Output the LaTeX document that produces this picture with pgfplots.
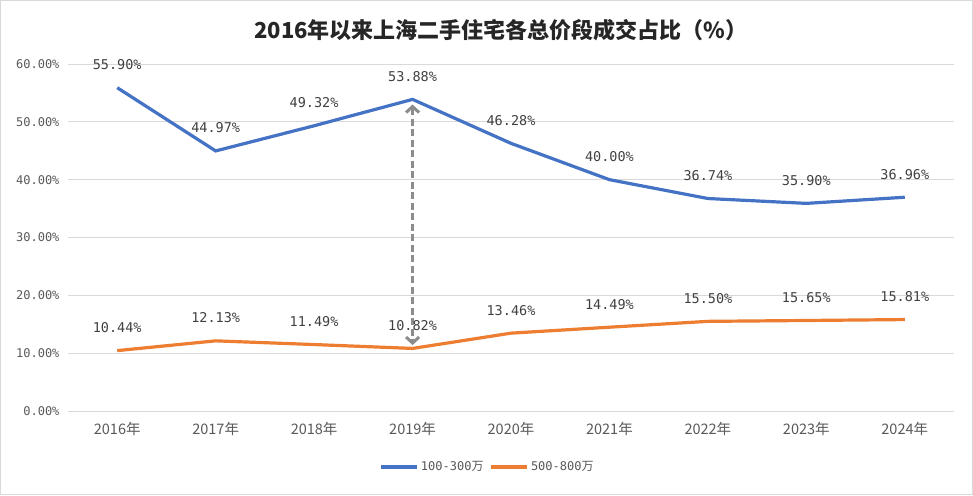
\documentclass[border=0pt]{standalone}
\usepackage{fontspec}
\setmainfont{Noto Sans CJK SC}
\newfontfamily\monofont{DejaVu Sans Mono}
\usepackage{pgfplots}
\pgfplotsset{compat=1.18}
\usetikzlibrary{arrows.meta}
\definecolor{cblue}{HTML}{4472C4}
\definecolor{corange}{HTML}{ED7D31}
\definecolor{gridc}{HTML}{D9D9D9}
\definecolor{txt}{HTML}{595959}
\definecolor{lbl}{HTML}{404040}
\definecolor{arr}{HTML}{8C8C8C}
\begin{document}
\begin{tikzpicture}
\draw[gridc, line width=1pt] (0.5pt,0.5pt) rectangle (972.5pt,494.5pt);
\node[font=\bfseries\fontsize{22}{24}\selectfont, text=black!85] at (501pt,465pt) {2016年以来上海二手住宅各总价段成交占比（\%）};
\begin{axis}[
  at={(68pt,84pt)}, anchor=south west,
  scale only axis, width=886pt, height=347pt,
  xmin=-0.5, xmax=8.5, ymin=0, ymax=60,
  /pgf/number format/assume math mode=true,
  xtick={0,...,8},
  xticklabels={2016年,2017年,2018年,2019年,2020年,2021年,2022年,2023年,2024年},
  ytick={0,10,...,60},
  yticklabel={\monofont\pgfmathprintnumber[fixed,fixed zerofill,precision=2]{\tick}\%},
  yticklabel style={font=\fontsize{12}{14}\selectfont, text=txt, xshift=-5pt},
  xticklabel style={font=\fontsize{14.5}{16}\selectfont, text=txt, yshift=-8pt},
  axis line style={draw=none},
  major tick style={draw=none},
  ymajorgrids, grid style={gridc, line width=0.8pt},
  legend style={at={(0.4735,-0.161)}, anchor=center, draw=none, legend columns=2,
    font=\fontsize{12}{14}\selectfont, text=txt,
    /tikz/every even column/.append style={column sep=4pt}},
  legend image code/.code={\draw[#1, line width=3.5pt] (0pt,0pt) -- (36pt,0pt);},
  clip=false,
]
\addplot[cblue, line width=3.2pt, mark=none,
  nodes near coords={\monofont\pgfmathprintnumber[fixed,fixed zerofill,precision=2,assume math mode=true]{\pgfplotspointmeta}\%},
  nodes near coords align=center,
  every node near coord/.append style={yshift=23pt, font=\fontsize{13.5}{15}\selectfont, text=lbl}]
  coordinates {(0,55.90)(1,44.97)(2,49.32)(3,53.88)(4,46.28)(5,40.00)(6,36.74)(7,35.90)(8,36.96)};
\addlegendentry{\monofont 100-300\rmfamily 万}
\addplot[corange, line width=3.2pt, mark=none,
  nodes near coords={\monofont\pgfmathprintnumber[fixed,fixed zerofill,precision=2,assume math mode=true]{\pgfplotspointmeta}\%},
  nodes near coords align=center,
  every node near coord/.append style={yshift=23pt, font=\fontsize{13.5}{15}\selectfont, text=lbl}]
  coordinates {(0,10.44)(1,12.13)(2,11.49)(3,10.82)(4,13.46)(5,14.49)(6,15.50)(7,15.65)(8,15.81)};
\addlegendentry{\monofont 500-800\rmfamily 万}
\addplot[arr, line width=3pt, dash pattern=on 7pt off 3.5pt, forget plot,
  {Straight Barb[length=6pt,width=13pt]}-{Straight Barb[length=6pt,width=13pt]}]
  coordinates {(3,53.0)(3,11.4)};
\end{axis}
\end{tikzpicture}
\end{document}
